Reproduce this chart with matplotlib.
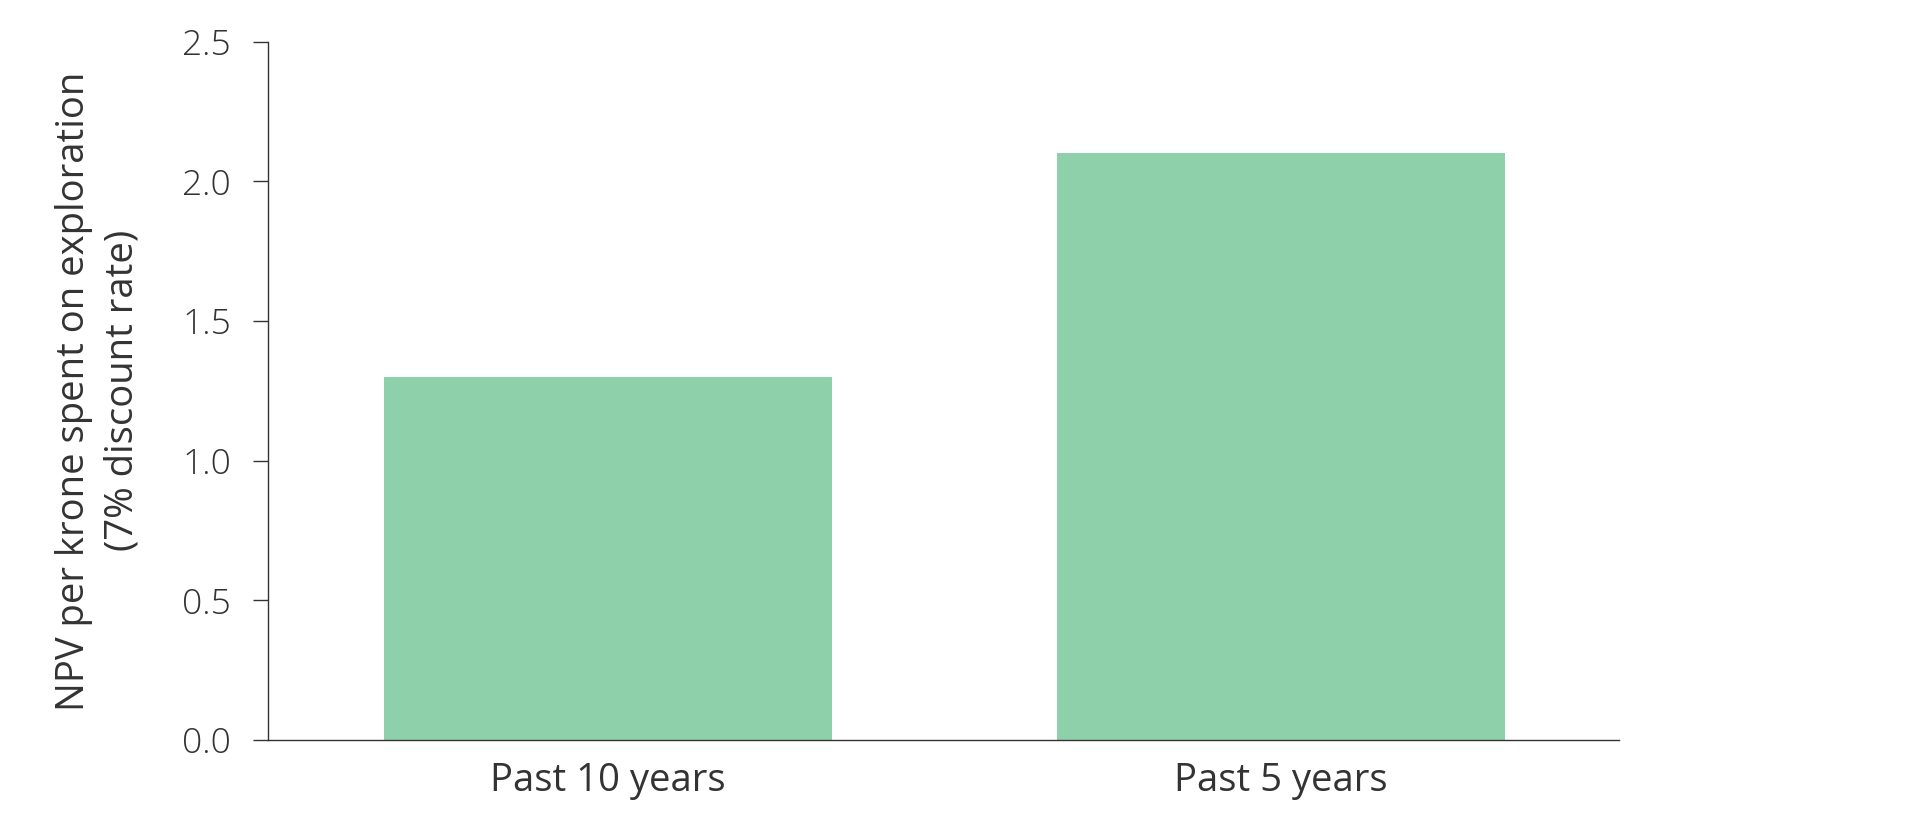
import matplotlib
matplotlib.use("Agg")
import matplotlib.pyplot as plt

categories = ["Past 10 years", "Past 5 years"]
npv_values = [1.3, 2.1]
y_ticks = [0.0, 0.5, 1.0, 1.5, 2.0, 2.5]

plt.rcParams['font.family'] = ['Open Sans', 'DejaVu Sans']

fig = plt.figure(figsize=(19.2, 8.35), dpi=100)
ax = fig.add_axes([0.1396, 0.1138, 0.7034, 0.8362])

x = range(len(categories))
ax.bar(x, npv_values, width=0.665, color="#8ED0AA")

ax.set_xlim(-0.505, 1.502)
ax.set_ylim(0, 2.5)
ax.set_yticks(y_ticks)
ax.set_yticklabels([f"{v:.1f}" for v in y_ticks], fontsize=25.5, color="#333333",
                   fontweight="light")
ax.set_xticks(list(x))
ax.set_xticklabels(categories, fontsize=27.5, color="#333333")
ax.tick_params(axis="y", length=10.6, width=1, color="#333333", pad=16)
ax.tick_params(axis="x", length=0, pad=16)

for side in ["top", "right"]:
    ax.spines[side].set_visible(False)
for side in ["left", "bottom"]:
    ax.spines[side].set_color("#333333")
    ax.spines[side].set_linewidth(1)

ax.set_ylabel("NPV per krone spent on exploration\n(7% discount rate)",
              fontsize=27.5, color="#333333", linespacing=1.35)
ax.yaxis.set_label_coords(-0.094, 0.5)

fig.savefig("out.png", dpi=100)
